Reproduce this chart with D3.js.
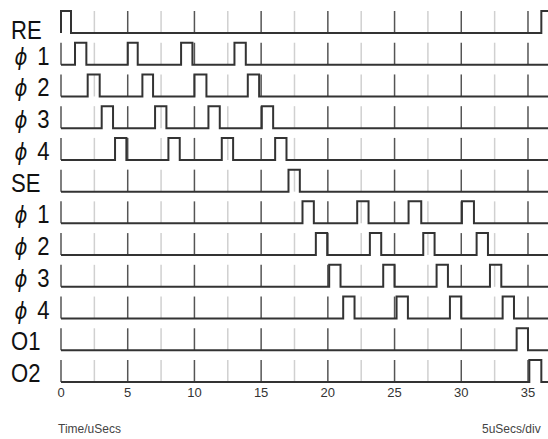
<!DOCTYPE html>
<html>
<head>
<meta charset="utf-8">
<script src="https://cdn.jsdelivr.net/npm/d3@7"></script>
<style>
  body { margin: 0; background: #fff; }
  svg { display: block; }
</style>
</head>
<body>
<div id="chart"></div>
<script>
// signal names, top to bottom
var signals = ["RE", "ϕ1", "ϕ2", "ϕ3", "ϕ4", "SE", "ϕ1", "ϕ2", "ϕ3", "ϕ4", "O1", "O2"];

// pulse start / end times (uSecs), one array per row
var pulses = [
    [[0, 0.75], [36, 37]],
    [[1.05, 1.9], [5, 5.75], [9, 9.85], [13, 13.85]],
    [[2, 2.9], [6.1, 6.9], [10, 10.9], [14, 14.85]],
    [[3.05, 3.9], [7.05, 7.9], [11.05, 11.9], [15.05, 15.9]],
    [[4.05, 4.9], [8.05, 8.9], [12.05, 12.9], [16.05, 16.9]],
    [[17.05, 17.9]],
    [[18.1, 18.95], [22.2, 23.05], [26.05, 27], [30.05, 30.95]],
    [[19.1, 19.95], [23.15, 24], [27.15, 28], [31.15, 32]],
    [[20.1, 20.95], [24.15, 25], [28.15, 29], [32.15, 33]],
    [[21.15, 22], [25.15, 26], [29.15, 30], [33.1, 33.95]],
    [[34.15, 35]],
    [[35.1, 36]]
];

var tickValues = [0, 5, 10, 15, 20, 25, 30, 35];
var gridValues = [0, 2.5, 5, 7.5, 10, 12.5, 15, 17.5, 20, 22.5, 25, 27.5, 30, 32.5, 35];

var width = 548, height = 439;
var pulseHeight = 22;

var x = d3.scaleLinear().domain([0, 36.5]).range([61, 548]);
var y = d3.scalePoint().domain(d3.range(signals.length)).range([33, 382]);

var svg = d3.select("#chart")
    .append("svg")
    .attr("width", width)
    .attr("height", height);

// row grid ticks
signals.forEach(function (s, i) {
    svg.append("g")
        .selectAll("line")
        .data(gridValues)
        .enter()
        .append("line")
        .attr("x1", function (d) { return x(d); })
        .attr("x2", function (d) { return x(d); })
        .attr("y1", y(i))
        .attr("y2", y(i) - pulseHeight)
        .attr("stroke", function (d) { return d % 5 === 0 ? "#555" : "#d0d0d0"; })
        .attr("stroke-width", 1.5);
});

// waveform path for one row
function wave(list, base) {
    var p = d3.path();
    p.moveTo(x(0), base);
    list.forEach(function (pl) {
        p.lineTo(x(pl[0]), base);
        p.lineTo(x(pl[0]), base - pulseHeight);
        p.lineTo(x(pl[1]), base - pulseHeight);
        p.lineTo(x(pl[1]), base);
    });
    p.lineTo(width + 5, base);
    return p.toString();
}

svg.append("g")
    .selectAll("path")
    .data(pulses)
    .enter()
    .append("path")
    .attr("d", function (d, i) { return wave(d, y(i)); })
    .attr("fill", "none")
    .attr("stroke", "#333")
    .attr("stroke-width", 2);

// row labels
var labels = svg.append("g")
    .selectAll("text")
    .data(signals)
    .enter()
    .append("text")
    .attr("transform", function (d, i) {
        var dy = i === 0 ? 6 : 0;
        return "translate(11," + (y(i) + dy) + ") scale(0.85,1)";
    })
    .style("font-family", "Liberation Sans, Arial, sans-serif")
    .style("font-size", "26px")
    .style("fill", "#111");

labels.each(function (d) {
    var t = d3.select(this);
    if (d.charAt(0) === "ϕ") {
        t.append("tspan")
            .attr("x", 4)
            .style("font-family", "DejaVu Sans, sans-serif")
            .style("font-style", "italic")
            .style("font-size", "23px")
            .text(d.charAt(0));
        t.append("tspan")
            .attr("x", 31)
            .text(d.slice(1));
    } else {
        t.text(d);
    }
});

// time axis labels
svg.append("g")
    .selectAll("text")
    .data(tickValues)
    .enter()
    .append("text")
    .attr("x", function (d) { return x(d); })
    .attr("y", 397)
    .attr("text-anchor", "middle")
    .style("font-family", "Liberation Sans, Arial, sans-serif")
    .style("font-size", "13px")
    .style("fill", "#333")
    .text(function (d) { return d; });

svg.append("text")
    .attr("x", 58)
    .attr("y", 433)
    .style("font-family", "Liberation Sans, Arial, sans-serif")
    .style("font-size", "12px")
    .style("fill", "#444")
    .text("Time/uSecs");

svg.append("text")
    .attr("x", 482)
    .attr("y", 433)
    .style("font-family", "Liberation Sans, Arial, sans-serif")
    .style("font-size", "12px")
    .style("fill", "#444")
    .text("5uSecs/div");
</script>
</body>
</html>
